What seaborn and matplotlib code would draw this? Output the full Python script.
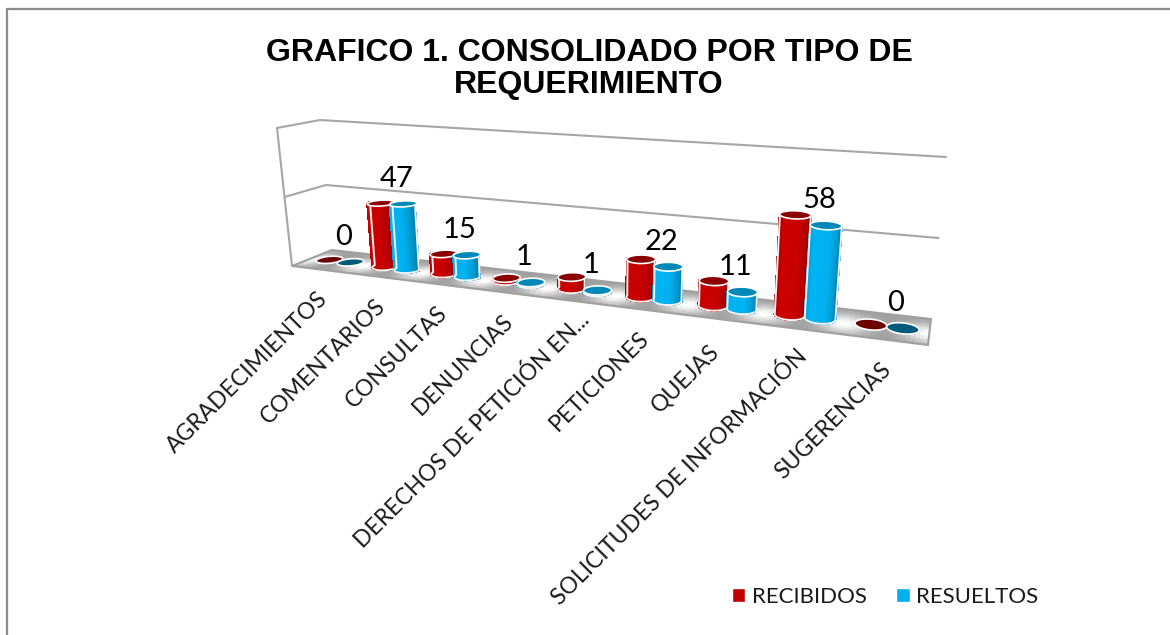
import numpy as np
import pandas as pd
import seaborn as sns
import matplotlib
matplotlib.use("Agg")
import matplotlib.pyplot as plt
from matplotlib.patches import Patch, Polygon

categorias = ["AGRADECIMIENTOS", "COMENTARIOS", "CONSULTAS", "DENUNCIAS",
              "DERECHOS DE PETICIÓN EN...", "PETICIONES", "QUEJAS",
              "SOLICITUDES DE INFORMACIÓN", "SUGERENCIAS"]
recibidos = [0, 46, 14, 2, 8, 25, 16, 63, 0]
resueltos = [0, 47, 15, 1, 1, 22, 11, 58, 0]
series = ["RECIBIDOS", "RESUELTOS"]
colores = ["#C00000", "#00B0F0"]
grid_vals = [50, 100]

sns.set_theme(style="white")
plt.rcParams["font.family"] = ["Lato", "DejaVu Sans"]

df = pd.DataFrame({
    "categoria": categorias * 2,
    "serie": [series[0]] * 9 + [series[1]] * 9,
    "valor": recibidos + resueltos,
})

fig = plt.figure(figsize=(11.7, 6.35), dpi=100)

# seaborn lays out the dodged bars on a hidden axes, they get projected afterwards
ax_bar = fig.add_axes([0, 0, 1, 1])
sns.barplot(data=df, x="categoria", y="valor", hue="serie", order=categorias,
            hue_order=series, width=0.76, legend=False, errorbar=None, ax=ax_bar)
ax_bar.set_visible(False)

ax = fig.add_axes([0, 0, 1, 1])
ax.set_xlim(0, 1170)
ax.set_ylim(635, 0)
ax.axis("off")

# floor corners in pixels: (u, v), u along categories, v 0 = back, 1 = front
src = np.array([[0, 0], [0, 1], [9, 0], [9, 1]], float)
dst = np.array([[332, 250], [292, 266], [931, 319], [928, 345]], float)
A = []
b = []
for (u, v), (x, y) in zip(src, dst):
    A.append([u, v, 1, 0, 0, 0, -u * x, -v * x])
    A.append([0, 0, 0, u, v, 1, -u * y, -v * y])
    b += [x, y]
h = np.linalg.solve(np.array(A), np.array(b))


def floor_xy(u, v):
    w = h[6] * u + h[7] * v + 1
    return (h[0] * u + h[1] * v + h[2]) / w, (h[3] * u + h[4] * v + h[5]) / w


def proj(u, v, z=0.0):
    x, y = floor_xy(u, v)
    xl = 332 + (292 - 332) * v
    xr = 931 + (928 - 931) * v
    f = (x - xl) / (xr - xl)
    dx = (-0.12 + 0.03 * -v) * (1 - f) + (0.15 + 0.01 * v) * f
    dy = (-1.30 - 0.08 * v) * (1 - f) + (-1.62 - 0.08 * v) * f
    return x + dx * z, y + dy * z


# chart frame
ax.plot([6.5, 6.5, 1170], [635, 9, 9], color="#8c8c8c", lw=1.6, solid_joinstyle="miter")

# walls
wall = "#a6a6a6"
for z in grid_vals:
    p0 = proj(0, 1, z)
    p1 = proj(0, 0, z)
    p2 = proj(9, 0, z)
    ax.plot([p0[0], p1[0], p2[0]], [p0[1], p1[1], p2[1]], color=wall, lw=1.5, zorder=1)
p0 = proj(0, 1, 0)
p1 = proj(0, 1, grid_vals[-1])
ax.plot([p0[0], p1[0]], [p0[1], p1[1]], color=wall, lw=1.5, zorder=1)

# floor
uu, vv = np.meshgrid(np.linspace(0, 9, 181), np.linspace(0, 1, 17))
X, Y = floor_xy(uu, vv)
uc = 0.5 * (uu[:-1, :-1] + uu[1:, 1:])
vc = 0.5 * (vv[:-1, :-1] + vv[1:, 1:])
du = np.abs(uc - np.round(uc))
C = 0.62 + 0.38 * np.exp(-(du / 0.3) ** 2) * np.exp(-((vc - 0.6) / 0.36) ** 2)
ax.pcolormesh(X, Y, C, cmap="gray", vmin=0, vmax=1, shading="flat", zorder=2, rasterized=True)
edge = [floor_xy(*c) for c in [(0, 0), (0, 1), (9, 1), (9, 0)]]
ax.add_patch(Polygon(edge, closed=True, fill=False, ec="#a0a0a0", lw=1.5, zorder=3))

# cylinders
ramps = []
tapas = ["#8a0000", "#0088B8"]
tapas_cero = ["#6a0000", "#005a7a"]
ramps.append(sns.blend_palette(["#8a0000", "#cc0000", "#c80000", "#a00000"], 30))
ramps.append(sns.blend_palette(["#0082b0", "#00b4f4", "#00b0f0", "#0084b4"], 30))
rv = 0.21

zo = 4
tops = []
for i in range(len(categorias)):
    for s in range(2):
        bar = ax_bar.containers[s][i]
        uc0 = bar.get_x() + bar.get_width() / 2 + 0.5
        ru = bar.get_width() / 2
        val = bar.get_height()
        t = np.linspace(np.pi, 2 * np.pi, 31)
        # front half of the circle goes towards v = 1
        us = uc0 + ru * np.cos(t)
        vs = 0.5 - rv * np.sin(t)
        if val > 0:
            for k in range(30):
                a = proj(us[k], vs[k], 0)
                b2 = proj(us[k + 1], vs[k + 1], 0)
                c = proj(us[k + 1], vs[k + 1], val)
                d = proj(us[k], vs[k], val)
                ax.add_patch(Polygon([a, b2, c, d], closed=True, fc=ramps[s][k],
                                     ec=ramps[s][k], lw=0.8, antialiased=False, zorder=zo))
            # pale rim round the body
            low = [proj(us[k], vs[k], 0) for k in range(31)]
            sil = [proj(us[0], vs[0], val)] + low + [proj(us[-1], vs[-1], val)]
            ax.plot([p[0] for p in sil], [p[1] for p in sil], color="#f2f2f2", lw=1.4, zorder=zo)
        tt = np.linspace(0, 2 * np.pi, 61)
        ring_top = [proj(uc0 + ru * np.cos(q), 0.5 + rv * np.sin(q), val) for q in tt]
        cara = tapas[s] if val > 0 else tapas_cero[s]
        ax.add_patch(Polygon(ring_top, closed=True, fc=cara, ec="white", lw=1.2, zorder=zo))
        zo += 0.01
        if s == 1:
            tops.append(proj(uc0, 0.5, val))

# value labels sit above the RESUELTOS top
for i, val in enumerate(resueltos):
    ax.text(tops[i][0] - 7, tops[i][1] - 25, str(val), fontsize=21, color="black",
            ha="center", va="center", zorder=20)

# category labels, a couple of them need a nudge
nudge_x = [-2, -2, -2, 0, 8, -3, -9, -2, -2]
nudge_y = [3, 3, 2, 2, -8, 2, 6, 0, 3]
for i, nombre in enumerate(categorias):
    x, y = floor_xy(i + 0.5, 1)
    ax.text(x - 1 + nudge_x[i], y + 16 + nudge_y[i], nombre, fontsize=16.5, color="#1a1a1a",
            rotation=45, rotation_mode="anchor", ha="right", va="top", zorder=20)

ax.text(589, 69, "GRAFICO 1. CONSOLIDADO POR TIPO DE\nREQUERIMIENTO", fontsize=23,
        fontweight="bold", family="Liberation Sans", color="black", ha="center",
        va="center", linespacing=1.13, zorder=20)

handles = [Patch(fc=colores[0], label=series[0]), Patch(fc=colores[1], label=series[1])]
ax.legend(handles=handles, ncols=2, frameon=False, fontsize=16, handlelength=0.62,
          handleheight=0.62, handletextpad=0.3, columnspacing=1.3,
          loc="center", bbox_to_anchor=(885, 597), bbox_transform=ax.transData,
          labelcolor="#1a1a1a")

fig.savefig("out.png", dpi=100)
